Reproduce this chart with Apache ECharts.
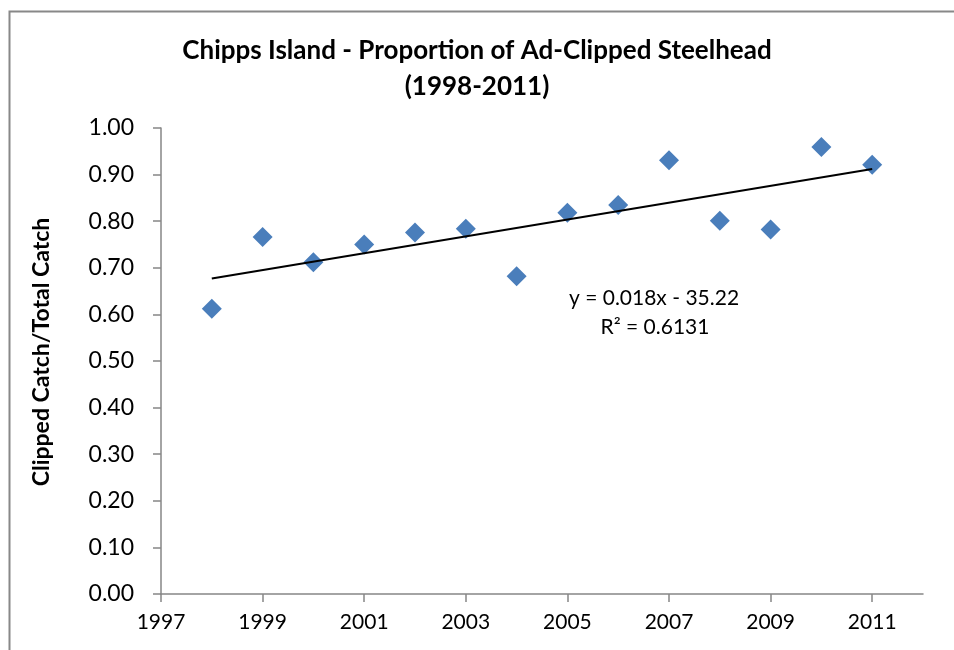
<!DOCTYPE html>
<html>
<head>
<meta charset="utf-8">
<title>Chipps Island - Proportion of Ad-Clipped Steelhead</title>
<script src="https://cdn.jsdelivr.net/npm/echarts@6/dist/echarts.min.js"></script>
<style>
  html, body { margin: 0; padding: 0; background: #fff; }
  #chart { width: 954px; height: 650px; }
</style>
</head>
<body>
<div id="chart"></div>
<script>
// data
var years = [1998, 1999, 2000, 2001, 2002, 2003, 2004, 2005, 2006, 2007, 2008, 2009, 2010, 2011];
var proportion = [0.612, 0.766, 0.712, 0.750, 0.776, 0.784, 0.682, 0.818, 0.835, 0.931, 0.801, 0.782, 0.959, 0.921];
// linear trend line end points
var trendYears = [1998, 2011];
var trendValues = [0.677, 0.912];
var xTicks = [1997, 1999, 2001, 2003, 2005, 2007, 2009, 2011];

var font = 'Lato, "Open Sans", sans-serif';
var axisGrey = '#868686';

var myChart = echarts.init(document.getElementById('chart'));
var option = {
    animation: false,
    backgroundColor: '#fff',
    title: {
        text: 'Chipps Island - Proportion of Ad-Clipped Steelhead\n(1998-2011)',
        left: 'center',
        top: 28,
        textStyle: {
            fontFamily: font,
            fontSize: 26,
            fontWeight: 'bold',
            color: '#000',
            lineHeight: 36
        }
    },
    grid: {
        left: 161,
        right: 31,
        top: 128,
        bottom: 56
    },
    xAxis: {
        type: 'value',
        min: 1997,
        max: 2012,
        interval: 2,
        splitLine: { show: false },
        axisLine: { show: true, lineStyle: { color: axisGrey, width: 1.5 } },
        axisTick: { show: true, length: 8, customValues: xTicks, lineStyle: { color: axisGrey, width: 1.5 } },
        axisLabel: {
            customValues: xTicks,
            margin: 18,
            color: '#000',
            fontFamily: font,
            fontSize: 21,
            formatter: function (v) { return String(v); }
        }
    },
    yAxis: {
        type: 'value',
        min: 0,
        max: 1,
        interval: 0.1,
        name: 'Clipped Catch/Total Catch',
        nameLocation: 'middle',
        nameGap: 108,
        nameTextStyle: {
            fontFamily: font,
            fontSize: 23,
            fontWeight: 'bold',
            color: '#000',
            padding: [0, 0, 0, 18]
        },
        splitLine: { show: false },
        axisLine: { show: true, lineStyle: { color: axisGrey, width: 1.5 } },
        axisTick: { show: true, length: 8, lineStyle: { color: axisGrey, width: 1.5 } },
        axisLabel: {
            margin: 27,
            color: '#000',
            fontFamily: font,
            fontSize: 23,
            formatter: function (v) { return v.toFixed(2); }
        }
    },
    series: [
        {
            name: 'Trend',
            type: 'line',
            data: trendYears.map(function (y, i) { return [y, trendValues[i]]; }),
            showSymbol: false,
            symbol: 'none',
            lineStyle: { color: '#000', width: 2 },
            z: 3
        },
        {
            name: 'Proportion',
            type: 'scatter',
            data: years.map(function (y, i) { return [y, proportion[i]]; }),
            symbol: 'diamond',
            symbolSize: [20, 20],
            itemStyle: { color: '#4A7EBB', opacity: 1 },
            z: 2
        }
    ],
    graphic: [
        {
            type: 'rect',
            left: 7,
            top: 9,
            shape: { width: 1000, height: 700 },
            style: { fill: 'none', stroke: '#888888', lineWidth: 2 },
            silent: true
        },
        {
            type: 'text',
            x: 654,
            y: 298,
            style: {
                text: 'y = 0.018x - 35.22',
                fontFamily: font,
                fontSize: 21,
                fill: '#000',
                align: 'center',
                verticalAlign: 'middle'
            }
        },
        {
            type: 'text',
            x: 655,
            y: 327,
            style: {
                text: 'R² = 0.6131',
                fontFamily: font,
                fontSize: 21,
                fill: '#000',
                align: 'center',
                verticalAlign: 'middle'
            }
        }
    ]
};
myChart.setOption(option);
</script>
</body>
</html>
